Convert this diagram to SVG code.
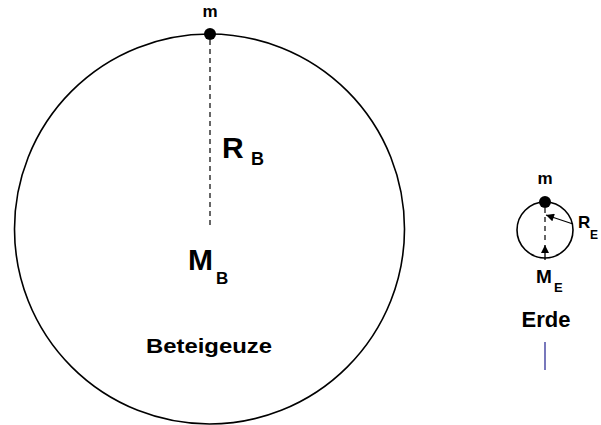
<svg xmlns="http://www.w3.org/2000/svg" width="601" height="425" viewBox="0 0 601 425">
<style>
.t{font-family:"Liberation Sans",Arial,sans-serif;font-weight:bold;fill:#000}
.c{fill:none;stroke:#000;stroke-width:1.6}
.d{stroke:#000;stroke-width:1.2;stroke-dasharray:5 4;fill:none}
.a{stroke:#000;stroke-width:1.3;fill:none}
</style>
<defs>
<marker id="ah" viewBox="0 0 10 10" refX="10" refY="5" markerWidth="10" markerHeight="8" markerUnits="userSpaceOnUse" orient="auto">
<path d="M0,0 L10,5 L0,10 z" fill="#000"/>
</marker>
</defs>
<rect width="601" height="425" fill="#fff"/>
<g id="beteigeuze">
<circle class="c" cx="209.5" cy="229" r="195"/>
<text class="t" x="146" y="353" font-size="21" textLength="126" lengthAdjust="spacingAndGlyphs">Beteigeuze</text>
</g>
<g id="mass-b">
<circle cx="210" cy="34" r="6" fill="#000"/>
<text class="t" x="210" y="17" font-size="17" text-anchor="middle">m</text>
</g>
<g id="label-rb">
<text class="t" x="222" y="158" font-size="30">R</text>
<text class="t" x="251" y="165" font-size="18">B</text>
</g>
<g id="label-mb">
<text class="t" x="188" y="270" font-size="30">M</text>
<text class="t" x="216" y="284" font-size="17">B</text>
</g>
<g id="erde">
<circle class="c" cx="545" cy="230" r="28"/>
<text class="t" x="546" y="327" font-size="22" text-anchor="middle">Erde</text>
</g>
<g id="mass-e">
<circle cx="545" cy="202" r="6" fill="#000"/>
<text class="t" x="545" y="184" font-size="17" text-anchor="middle">m</text>
</g>
<g id="label-re">
<text class="t" x="578" y="228" font-size="17">R</text>
<text class="t" x="590" y="239" font-size="12">E</text>
</g>
<g id="label-me">
<text class="t" x="536" y="283" font-size="19">M</text>
<text class="t" x="554" y="292" font-size="13">E</text>
</g>
<g id="connectors">
<line class="d" x1="210" y1="40" x2="210" y2="228"/>
<line class="d" x1="545" y1="208" x2="545" y2="240"/>
<line class="a" x1="573" y1="224" x2="546" y2="215" marker-end="url(#ah)"/>
<line class="a" x1="545" y1="260" x2="545" y2="245" marker-end="url(#ah)"/>
<line x1="545" y1="342" x2="545" y2="370" stroke="#1f1f8f" stroke-width="1.2"/>
</g>
</svg>
